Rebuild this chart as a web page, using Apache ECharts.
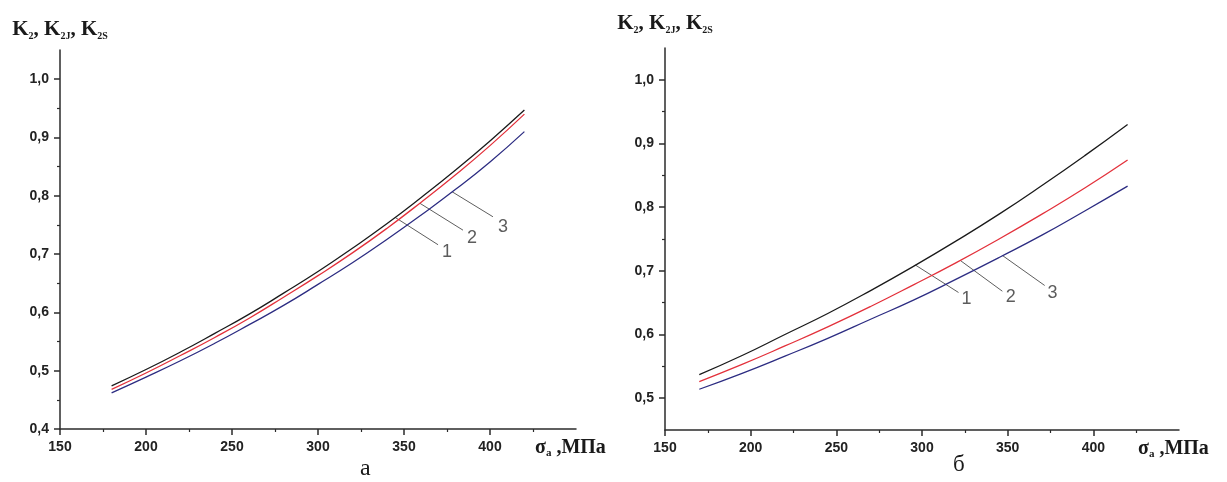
<!DOCTYPE html>
<html>
<head>
<meta charset="utf-8">
<script src="https://cdn.jsdelivr.net/npm/echarts@6/dist/echarts.min.js"></script>
<style>
  html, body { margin: 0; padding: 0; background: #fff; }
  #chart { width: 1227px; height: 482px; }
</style>
</head>
<body>
<div id="chart"></div>
<script>
// Panel "а": stress amplitude (MPa) and coefficients for curves 1, 2, 3
const sigmaA = [180, 200, 220, 240, 260, 280, 300, 320, 340, 360, 380, 400, 420];
const curve1A = [0.474, 0.502, 0.532, 0.564, 0.597, 0.633, 0.670, 0.710, 0.752, 0.797, 0.844, 0.894, 0.947];
const curve2A = [0.468, 0.496, 0.526, 0.557, 0.590, 0.626, 0.663, 0.702, 0.744, 0.789, 0.836, 0.886, 0.940];
const curve3A = [0.462, 0.489, 0.517, 0.547, 0.579, 0.612, 0.648, 0.685, 0.725, 0.767, 0.811, 0.858, 0.910];

// Panel "б"
const sigmaB = [170, 195, 220, 245, 270, 295, 320, 345, 370, 395, 420];
const curve1B = [0.537, 0.567, 0.600, 0.633, 0.669, 0.707, 0.747, 0.789, 0.834, 0.881, 0.930];
const curve2B = [0.526, 0.553, 0.582, 0.612, 0.644, 0.678, 0.713, 0.750, 0.789, 0.830, 0.874];
const curve3B = [0.514, 0.539, 0.566, 0.594, 0.624, 0.654, 0.687, 0.721, 0.756, 0.794, 0.833];

// Tick values
const xMajor = [150, 200, 250, 300, 350, 400];
const xMinor = [175, 225, 275, 325, 375, 425];
const yMajorA = [0.4, 0.5, 0.6, 0.7, 0.8, 0.9, 1.0];
const yMinorA = [0.45, 0.55, 0.65, 0.75, 0.85, 0.95];
const yMajorB = [0.5, 0.6, 0.7, 0.8, 0.9, 1.0];
const yMinorB = [0.55, 0.65, 0.75, 0.85, 0.95];

// Curve number callouts (leader line from curve, then the number)
const curveNumbers = ['1', '2', '3'];
const leadersA = [
  [[344.8, 0.763], [369.8, 0.716]],
  [[359.3, 0.787], [384.3, 0.741]],
  [[377.9, 0.807], [401.7, 0.764]]
];
const numberPosA = [[375.0, 0.704], [389.5, 0.728], [407.6, 0.746]];
const leadersB = [
  [[296.2, 0.709], [321.3, 0.666]],
  [[322.5, 0.716], [346.9, 0.668]],
  [[347.0, 0.724], [371.6, 0.677]]
];
const numberPosB = [[326.0, 0.656], [351.8, 0.659], [376.1, 0.665]];

const AXIS_COLOR = '#2b2b2b';
const LABEL_COLOR = '#222';
const SANS = '"Liberation Sans", Arial, sans-serif';
const SERIF = '"Liberation Serif", "Times New Roman", serif';
const colors = ['#1a1a1a', '#e3313b', '#2c2c82'];

const fmtY = v => v.toFixed(1).replace('.', ',');

const yName = '{k|K}{s|2}{k|, K}{s|2J}{k|, K}{s|2S}';
const yNameStyle = {
  color: '#1a1a1a',
  rich: {
    k: { fontFamily: SERIF, fontWeight: 'bold', fontSize: 21, lineHeight: 23, color: '#1a1a1a' },
    s: { fontFamily: SERIF, fontWeight: 'bold', fontSize: 10, lineHeight: 18, verticalAlign: 'bottom', color: '#1a1a1a' }
  }
};
const xName = '{m|σ}{s|a}{m| ,МПа}';
const xNameStyle = {
  align: 'left',
  verticalAlign: 'top',
  padding: [8, 0, 0, 0],
  rich: {
    m: { fontFamily: SERIF, fontWeight: 'bold', fontSize: 20, lineHeight: 22, color: '#1a1a1a' },
    s: { fontFamily: SERIF, fontWeight: 'bold', fontSize: 11, lineHeight: 18, verticalAlign: 'bottom', color: '#1a1a1a' }
  }
};

function xAxes(gridIndex) {
  const common = {
    type: 'value', gridIndex, position: 'bottom', min: 150, max: 450, interval: 25,
    splitLine: { show: false }
  };
  return [
    Object.assign({}, common, {
      axisLine: { show: true, lineStyle: { color: AXIS_COLOR, width: 1.5 } },
      axisTick: { show: true, customValues: xMinor, length: 3, lineStyle: { color: AXIS_COLOR, width: 1.2 } },
      axisLabel: { show: false }
    }),
    Object.assign({}, common, {
      axisLine: { show: false },
      axisTick: { show: true, customValues: xMajor, length: 6, lineStyle: { color: AXIS_COLOR, width: 1.5 } },
      axisLabel: {
        show: true, customValues: xMajor, margin: 11,
        fontFamily: SANS, fontWeight: 'bold', fontSize: 14, color: LABEL_COLOR
      },
      name: xName, nameLocation: 'end', nameGap: -41, nameTextStyle: xNameStyle
    })
  ];
}

function yAxes(gridIndex, min, major, minor, nameGap) {
  const common = {
    type: 'value', gridIndex, position: 'left', min, max: 1.05, interval: 0.05,
    splitLine: { show: false }
  };
  return [
    Object.assign({}, common, {
      axisLine: { show: true, lineStyle: { color: AXIS_COLOR, width: 1.5 } },
      axisTick: { show: true, customValues: minor, length: 3, lineStyle: { color: AXIS_COLOR, width: 1.2 } },
      axisLabel: { show: false }
    }),
    Object.assign({}, common, {
      axisLine: { show: false },
      axisTick: { show: true, customValues: major, length: 6, lineStyle: { color: AXIS_COLOR, width: 1.5 } },
      axisLabel: {
        show: true, customValues: major, margin: 11, formatter: fmtY,
        fontFamily: SANS, fontWeight: 'bold', fontSize: 14, color: LABEL_COLOR
      },
      name: yName, nameLocation: 'end', nameGap, nameTextStyle: yNameStyle
    })
  ];
}

function zip(xs, ys) { return xs.map((x, i) => [x, ys[i]]); }

function curveSeries(xs, curves, xi, yi) {
  return curves.map((ys, i) => ({
    type: 'line', xAxisIndex: xi, yAxisIndex: yi, data: zip(xs, ys),
    smooth: true, showSymbol: false, symbol: 'none', silent: true,
    lineStyle: { color: colors[i], width: 1.3 }, z: 3
  }));
}

function calloutSeries(leaders, positions, xi, yi) {
  const out = leaders.map(seg => ({
    type: 'line', xAxisIndex: xi, yAxisIndex: yi, data: seg,
    showSymbol: false, symbol: 'none', silent: true,
    lineStyle: { color: '#5e5e5e', width: 1 }, z: 2
  }));
  out.push({
    type: 'scatter', xAxisIndex: xi, yAxisIndex: yi, symbolSize: 0, silent: true,
    data: positions.map((p, i) => ({ value: p, name: curveNumbers[i] })),
    label: {
      show: true, position: 'inside', formatter: '{b}',
      fontFamily: SANS, fontSize: 18, color: '#333'
    }
  });
  return out;
}

const chart = echarts.init(document.getElementById('chart'), null, { renderer: 'canvas' });
chart.setOption({
  backgroundColor: '#ffffff',
  animation: false,
  grid: [
    { left: 60, right: 651, top: 50, bottom: 53, outerBoundsMode: 'none' },
    { left: 665, right: 48, top: 48, bottom: 52, outerBoundsMode: 'none' }
  ],
  xAxis: [...xAxes(0), ...xAxes(1)],
  yAxis: [...yAxes(0, 0.4, yMajorA, yMinorA, 9), ...yAxes(1, 0.45, yMajorB, yMinorB, 13)],
  series: [
    ...curveSeries(sigmaA, [curve1A, curve2A, curve3A], 0, 0),
    ...calloutSeries(leadersA, numberPosA, 0, 0),
    ...curveSeries(sigmaB, [curve1B, curve2B, curve3B], 2, 2),
    ...calloutSeries(leadersB, numberPosB, 2, 2)
  ],
  graphic: [
    { type: 'text', left: 360, top: 457, style: { text: 'а', font: '24px ' + SERIF, fill: '#1a1a1a' } },
    { type: 'text', left: 953, top: 453, style: { text: 'б', font: '23px ' + SERIF, fill: '#1a1a1a' } }
  ]
});
</script>
</body>
</html>
